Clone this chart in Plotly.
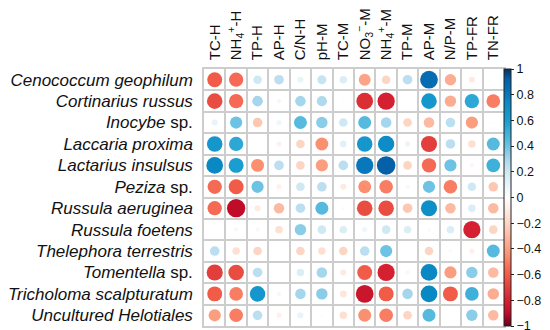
import numpy as np
import plotly.graph_objects as go

species = [
    "<i>Cenococcum geophilum</i>",
    "<i>Cortinarius russus</i>",
    "<i>Inocybe</i> sp.",
    "<i>Laccaria proxima</i>",
    "<i>Lactarius insulsus</i>",
    "<i>Peziza</i> sp.",
    "<i>Russula aeruginea</i>",
    "<i>Russula foetens</i>",
    "<i>Thelephora terrestris</i>",
    "<i>Tomentella</i> sp.",
    "<i>Tricholoma scalpturatum</i>",
    "<i>Uncultured Helotiales</i>",
]

variables = [
    "TC-H", "NH<sub>4</sub><sup>+</sup>-H", "TP-H", "AP-H", "C/N-H", "pH-M", "TC-M",
    "NO<sub>3</sub><sup>−</sup>-M", "NH<sub>4</sub><sup>+</sup>-M", "TP-M", "AP-M",
    "N/P-M", "TP-FR", "TN-FR",
]

r_cenococcum = [-0.60, -0.55, 0.20, 0.25, 0.10, 0.22, 0.15, -0.38, -0.20, 0.25, 0.85, -0.35, -0.10, 0.02]
r_cortinarius = [-0.65, -0.55, 0.30, -0.05, 0.30, 0.28, -0.02, -0.75, -0.80, 0.00, 0.65, -0.35, 0.55, -0.50]
r_inocybe = [0.10, 0.40, -0.25, 0.07, 0.45, 0.35, 0.20, 0.45, 0.30, -0.20, -0.30, 0.25, -0.40, 0.02]
r_laccaria = [0.65, 0.55, 0.00, -0.07, -0.20, -0.45, 0.12, 0.65, 0.72, 0.08, -0.70, 0.25, -0.15, 0.45]
r_lactarius = [0.75, 0.60, -0.45, 0.25, -0.20, -0.40, 0.25, 0.80, 0.92, -0.20, -0.55, 0.40, -0.05, 0.50]
r_peziza = [-0.55, -0.60, 0.40, -0.07, 0.20, 0.25, -0.10, -0.45, -0.50, 0.05, 0.40, -0.50, 0.20, -0.25]
r_aeruginea = [-0.55, -0.90, -0.10, -0.30, 0.25, 0.45, 0.03, -0.65, -0.65, -0.25, 0.70, -0.30, 0.15, -0.30]
r_foetens = [0.00, 0.05, 0.05, -0.15, 0.35, 0.20, 0.15, 0.07, 0.20, 0.15, -0.03, 0.15, -0.80, -0.20]
r_thelephora = [0.25, -0.15, -0.20, 0.01, -0.20, -0.15, -0.20, 0.25, 0.40, 0.02, -0.20, -0.03, -0.07, 0.45]
r_tomentella = [-0.70, -0.65, 0.25, 0.00, 0.15, 0.30, -0.10, -0.60, -0.80, 0.05, 0.75, -0.40, 0.35, -0.30]
r_tricholoma = [-0.60, -0.50, 0.65, 0.05, 0.30, 0.35, -0.12, -0.85, -0.60, 0.30, 0.75, -0.60, 0.50, -0.35]
r_helotiales = [-0.40, -0.50, 0.25, -0.07, 0.10, 0.02, -0.15, -0.45, -0.50, -0.20, 0.45, 0.00, 0.35, -0.30]

rows = [r_cenococcum, r_cortinarius, r_inocybe, r_laccaria, r_lactarius, r_peziza,
        r_aeruginea, r_foetens, r_thelephora, r_tomentella, r_tricholoma, r_helotiales]

colorscale = [
    [0.0, "#67001F"], [0.05, "#C00C28"], [0.1, "#D42030"], [0.2, "#F05C48"],
    [0.225, "#F56A55"], [0.275, "#FA9070"], [0.3, "#FB9E80"], [0.4, "#FDD5C3"],
    [0.5, "#FFFFFF"], [0.6, "#CFE8F3"], [0.65, "#A6D6EC"], [0.7, "#6CC3E3"],
    [0.75, "#3FB0D9"], [0.8, "#1A9DD0"], [0.875, "#0A88C4"], [0.9, "#0877BB"],
    [0.96, "#0560A8"], [1.0, "#053061"],
]

W, H = 550, 330
L, R, T, B = 196, 54, 61, 12
plot_w = W - L - R
cell = plot_w / len(variables)

xs, ys, vals = [], [], []
for i, row in enumerate(rows):
    for j, v in enumerate(row):
        xs.append(j)
        ys.append(i)
        vals.append(v)
vals = np.array(vals)
sizes = 0.9 * cell * np.sqrt(np.abs(vals))

fig = go.Figure(go.Scatter(
    x=xs, y=ys, mode="markers",
    marker=dict(
        size=sizes, sizemode="diameter", color=vals, cmin=-1, cmax=1, opacity=1,
        colorscale=colorscale, line=dict(width=0),
        colorbar=dict(
            x=1.0, xanchor="left", xpad=0, ypad=0,
            y=1, yanchor="top", len=1, lenmode="fraction",
            thickness=7, outlinewidth=1, outlinecolor="#222",
            tickvals=[-1, -0.8, -0.6, -0.4, -0.2, 0, 0.2, 0.4, 0.6, 0.8, 1],
            ticktext=["−1", "−0.8", "−0.6", "−0.4", "−0.2", "0", "0.2", "0.4", "0.6", "0.8", "1"],
            ticks="outside", ticklen=3, tickcolor="#222",
            tickfont=dict(family="Liberation Sans, Arial", size=12.5, color="#111"),
        ),
    ),
    hoverinfo="skip",
))

grid_col = "#cdcdcd"
fig.update_xaxes(
    range=[-0.5, len(variables) - 0.5], side="top",
    tickmode="array", tickvals=list(range(len(variables))), ticktext=variables,
    tickangle=-90, showgrid=False, zeroline=False, ticks="", ticklabelstandoff=4,
    tickfont=dict(family="Liberation Sans, Arial", size=15, color="#111"),
    minor=dict(tickmode="linear", tick0=-0.5, dtick=1, showgrid=True, gridcolor=grid_col, gridwidth=1.5),
    showline=True, linecolor=grid_col, linewidth=1.5, mirror=True, fixedrange=True,
)
fig.update_yaxes(
    range=[len(species) - 0.5, -0.5],
    tickmode="array", tickvals=list(range(len(species))), ticktext=species,
    showgrid=False, zeroline=False, ticks="", ticklabelstandoff=6,
    tickfont=dict(family="Liberation Sans, Arial", size=17, color="#111"),
    minor=dict(tickmode="linear", tick0=-0.5, dtick=1, showgrid=True, gridcolor=grid_col, gridwidth=1.5),
    showline=True, linecolor=grid_col, linewidth=1.5, mirror=True, fixedrange=True,
)
fig.update_layout(
    width=W, height=H, margin=dict(l=L, r=R, t=T, b=B, autoexpand=False),
    paper_bgcolor="white", plot_bgcolor="white", showlegend=False,
)
fig.write_html("out.html")
